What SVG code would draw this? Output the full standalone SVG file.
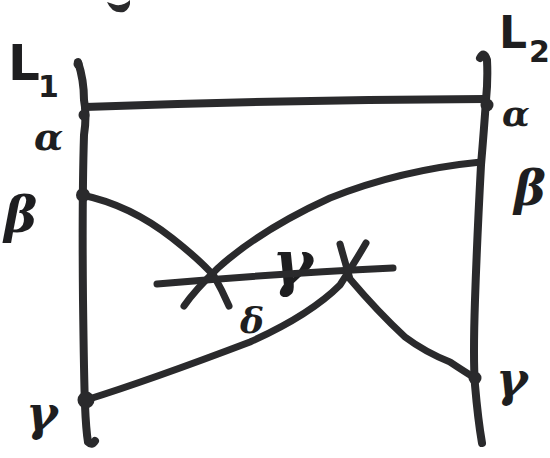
<svg xmlns="http://www.w3.org/2000/svg" width="550" height="458" viewBox="0 0 550 458">
<style>
.ln{fill:none;stroke:#2a2a2c;stroke-width:7;stroke-linecap:round;stroke-linejoin:round}
.th{stroke-width:8}
.dot{fill:#2a2a2c}
.lb{font-family:"DejaVu Sans",sans-serif;font-weight:bold;fill:#1e1e20}
.gr{font-family:"DejaVu Serif",serif;font-style:italic;font-weight:bold;fill:#1e1e20}
</style>
<rect width="550" height="458" fill="#ffffff"/>
<g id="fragment"><path d="M107,2 Q112,14 124,12 Q131,8 130,0 Q124,6 116,5 Z" fill="#2a2a2c"/></g>
<g id="L1">
<path class="ln th" d="M78,62 Q84,80 84,100 Q87,115 84,135 Q82,200 83,300 Q84,380 85,405 Q86,430 88,442 Q92,446 95,441"/>
<circle class="dot" cx="78" cy="64" r="4.5"/>
<text class="lb" x="8" y="80" font-size="50">L</text>
<text class="lb" x="38" y="97" font-size="30">1</text>
<text class="gr" x="34" y="150" font-size="38">α</text>
<text class="gr" x="4" y="232" font-size="50">β</text>
<text class="gr" x="26" y="430" font-size="48">γ</text>
</g>
<g id="L2">
<path class="ln th" d="M480,58 Q484,50 487,60 Q488,80 486,100 Q484,130 481,165 Q477,240 475,300 Q473,360 475,385 Q478,420 482,443"/>
<text class="lb" x="499" y="48" font-size="44">L</text>
<text class="lb" x="529" y="62" font-size="30">2</text>
<text class="gr" x="502" y="126" font-size="36">α</text>
<text class="gr" x="514" y="205" font-size="48">β</text>
<text class="gr" x="496" y="396" font-size="48">γ</text>
</g>
<g id="middle">
<text class="gr" x="272" y="284" font-size="62">γ</text>
<text class="gr" x="240" y="333" font-size="36">δ</text>
</g>
<g id="connectors">
<path class="ln th" d="M85,107 Q280,100 485,99"/>
<path class="ln" d="M82,195 Q130,205 172,238 Q200,260 214,276 Q222,290 229,306"/>
<circle class="dot" cx="83" cy="195" r="7"/>
<path class="ln" d="M481,162 Q400,170 330,198 Q260,230 218,268 Q195,290 184,306"/>
<path class="ln" d="M157,284 Q270,274 393,268"/>
<path class="ln" d="M86,400 Q150,380 250,342 Q310,315 340,285 Q355,262 366,243"/>
<circle class="dot" cx="86" cy="400" r="8.5"/>
<path class="ln" d="M340,244 Q345,262 350,279 Q378,312 405,337 Q425,352 450,362 Q465,372 475,378"/>
<circle class="dot" cx="475" cy="378" r="6.5"/>
<circle class="dot" cx="487" cy="105" r="6.5"/>
<circle class="dot" cx="84" cy="115" r="5.5"/>
</g>
</svg>
